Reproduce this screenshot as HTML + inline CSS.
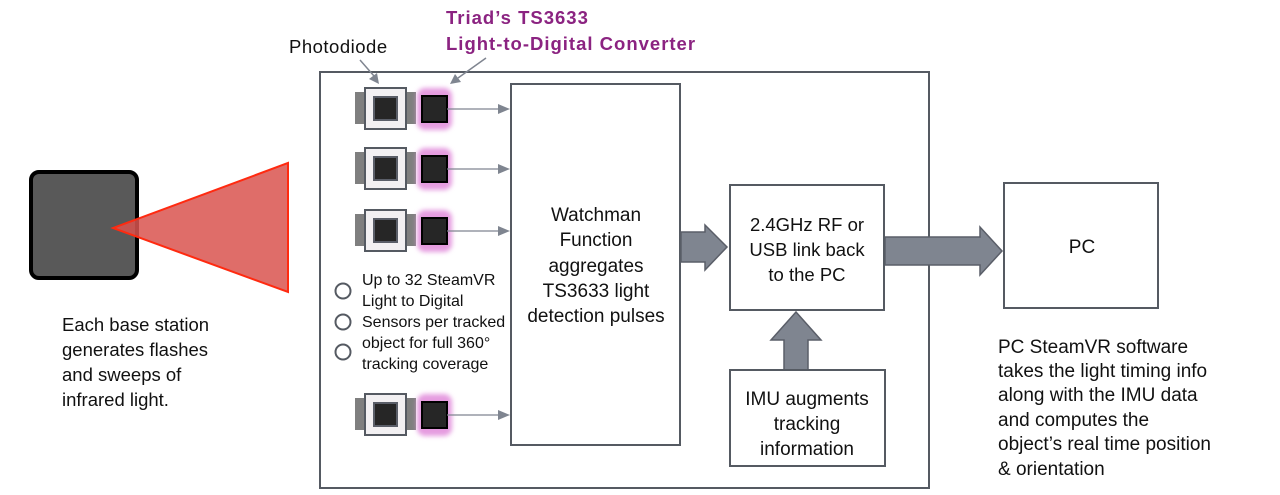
<!DOCTYPE html>
<html><head><meta charset="utf-8"><style>
html,body{margin:0;padding:0;background:#fff;}
svg{display:block;font-family:"Liberation Sans",sans-serif;}
.c{font-family:"Liberation Sans",sans-serif;}
</style></head><body>
<svg width="1280" height="495" viewBox="0 0 1280 495" xmlns="http://www.w3.org/2000/svg">
<defs>
<filter id="g" x="-50%" y="-50%" width="200%" height="200%"><feGaussianBlur stdDeviation="2.5"/></filter>
<g id="unit">
  <rect x="355" y="4" width="61" height="32" fill="#7f7f7f"/>
  <rect x="365" y="0" width="41" height="41" fill="#f2f0f2" stroke="#555a62" stroke-width="2"/>
  <rect x="374" y="9" width="23" height="23" fill="#262626" stroke="#5a5e68" stroke-width="2"/>
  <rect x="417" y="0" width="35" height="42" rx="8" fill="#e59be0" filter="url(#g)"/>
  <rect x="422" y="8" width="25" height="26" fill="#262626" stroke="#000" stroke-width="2"/>
  <line x1="447" y1="21" x2="500" y2="21" stroke="#7f8590" stroke-width="1.3"/>
  <polygon points="498,16 510,21 498,26" fill="#7f8590"/>
</g>
</defs>
<!-- base station -->
<rect x="31" y="172" width="106" height="106" rx="8" fill="#595959" stroke="#000" stroke-width="4"/>
<polygon points="113,228 288,163 288,292" fill="#d9534f" fill-opacity="0.85" stroke="#ff2a10" stroke-width="2"/>
<text class="c" font-size="18.5" fill="#111"><tspan x="62" y="331">Each base station</tspan><tspan x="62" y="356">generates flashes</tspan><tspan x="62" y="381">and sweeps of</tspan><tspan x="62" y="406">infrared light.</tspan></text>
<!-- main frame -->
<rect x="320" y="72" width="609" height="416" fill="none" stroke="#555a62" stroke-width="2"/>
<!-- labels -->
<text class="c" x="289" y="53" font-size="18.5" letter-spacing="0.5" fill="#111">Photodiode</text>
<text class="c" font-size="18.5" font-weight="bold" letter-spacing="1" fill="#8b2381"><tspan x="446" y="24">Triad’s TS3633</tspan><tspan x="446" y="50">Light-to-Digital Converter</tspan></text>
<line x1="360" y1="60" x2="374" y2="76" stroke="#7f8590" stroke-width="1.5"/>
<polygon points="369,79 379,84 377,73" fill="#7f8590"/>
<line x1="486" y1="58" x2="458" y2="78" stroke="#7f8590" stroke-width="1.5"/>
<polygon points="450,84 461,82 455,74" fill="#7f8590"/>
<!-- sensor units -->
<use href="#unit" y="88"/>
<use href="#unit" y="148"/>
<use href="#unit" y="210"/>
<use href="#unit" y="394"/>
<!-- bullets -->
<g fill="none" stroke="#555a62" stroke-width="2"><circle cx="343" cy="291" r="7.5"/><circle cx="343" cy="322" r="7.5"/><circle cx="343" cy="352" r="7.5"/></g>
<text class="c" font-size="16" fill="#111"><tspan x="362" y="285">Up to 32 SteamVR</tspan><tspan x="362" y="306">Light to Digital</tspan><tspan x="362" y="327">Sensors per tracked</tspan><tspan x="362" y="348">object for full 360°</tspan><tspan x="362" y="369">tracking coverage</tspan></text>
<!-- watchman -->
<rect x="511" y="84" width="169" height="361" fill="#fff" stroke="#555a62" stroke-width="2"/>
<text class="c" font-size="19" fill="#111" text-anchor="middle"><tspan x="596" y="221">Watchman</tspan><tspan x="596" y="246">Function</tspan><tspan x="596" y="272">aggregates</tspan><tspan x="596" y="297">TS3633 light</tspan><tspan x="596" y="322">detection pulses</tspan></text>
<!-- fat arrows -->
<polygon points="681,232 705,232 705,225 727,247 705,270 705,262 681,262" fill="#7f8590" stroke="#5a5e68" stroke-width="1.5"/>
<polygon points="885,237 980,237 980,227 1002,251 980,275 980,265 885,265" fill="#7f8590" stroke="#5a5e68" stroke-width="1.5"/>
<polygon points="784,370 784,340 771,340 796,312 821,340 808,340 808,370" fill="#7f8590" stroke="#5a5e68" stroke-width="1.5"/>
<!-- RF -->
<rect x="730" y="185" width="154" height="125" fill="#fff" stroke="#555a62" stroke-width="2"/>
<text class="c" font-size="18.5" fill="#111" text-anchor="middle"><tspan x="807" y="231">2.4GHz RF or</tspan><tspan x="807" y="256">USB link back</tspan><tspan x="807" y="281">to the PC</tspan></text>
<!-- IMU -->
<rect x="730" y="370" width="155" height="96" fill="#fff" stroke="#555a62" stroke-width="2"/>
<text class="c" font-size="19" fill="#111" text-anchor="middle"><tspan x="807" y="405">IMU augments</tspan><tspan x="807" y="430">tracking</tspan><tspan x="807" y="455">information</tspan></text>
<!-- PC -->
<rect x="1004" y="183" width="154" height="125" fill="#fff" stroke="#555a62" stroke-width="2"/>
<text class="c" x="1082" y="253" font-size="19" fill="#111" text-anchor="middle">PC</text>
<text class="c" font-size="19" fill="#111"><tspan x="998" y="353">PC SteamVR software</tspan><tspan x="998" y="377">takes the light timing info</tspan><tspan x="998" y="401">along with the IMU data</tspan><tspan x="998" y="426">and computes the</tspan><tspan x="998" y="450">object’s real time position</tspan><tspan x="998" y="475">&amp; orientation</tspan></text>
</svg>
</body></html>
